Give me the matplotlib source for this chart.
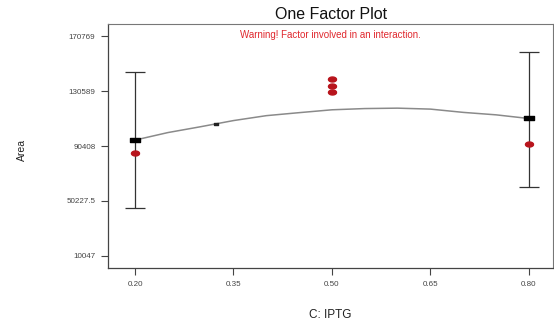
import matplotlib
matplotlib.use("Agg")
import matplotlib.pyplot as plt
from matplotlib.path import Path
import numpy as np

plt.rcParams['font.family'] = ['Liberation Sans', 'DejaVu Sans']

# Data
curve_x = [0.20, 0.25, 0.30, 0.35, 0.40, 0.45, 0.50, 0.55, 0.60, 0.65, 0.70, 0.75, 0.80]
curve_y = [94800, 100300, 104600, 109100, 112700, 114900, 117000, 117900, 118200, 117500, 115100, 113300, 110600]
pred_x = [0.20, 0.80]
pred_y = [94800, 110900]
ci_low = [44730, 60130]
ci_high = [144880, 159550]
actual_x = [0.20, 0.50, 0.50, 0.50, 0.80]
actual_y = [85500, 139530, 134620, 130220, 91650]
mid_x = [0.324]
mid_y = [106540]
xticks = [0.20, 0.35, 0.50, 0.65, 0.80]
xtick_labels = ["0.20", "0.35", "0.50", "0.65", "0.80"]
yticks = [10047, 50227.5, 90408, 130589, 170769]
ytick_labels = ["10047", "50227.5", "90408", "130589", "170769"]

fig = plt.figure(figsize=(5.54, 3.29), dpi=100)
ax = fig.add_axes([0.195, 0.185, 0.803, 0.742])

ax.plot(curve_x, curve_y, color='#8a8a8a', lw=1.1, zorder=2)

# error bars
ax.errorbar(pred_x, pred_y,
            yerr=[np.array(pred_y) - np.array(ci_low), np.array(ci_high) - np.array(pred_y)],
            fmt='none', ecolor='#333333', elinewidth=0.9, capsize=7, capthick=0.9, zorder=3)

rect = Path([(-1, -0.5), (1, -0.5), (1, 0.5), (-1, 0.5), (-1, -0.5)],
            [Path.MOVETO, Path.LINETO, Path.LINETO, Path.LINETO, Path.CLOSEPOLY])
ax.plot(pred_x, pred_y, linestyle='none', marker=rect, markersize=7,
        color='black', zorder=5)

t = np.linspace(0, 2 * np.pi, 30)
ell = Path(np.column_stack([np.cos(t), 0.62 * np.sin(t)]))
ax.plot(actual_x, actual_y, linestyle='none', marker=ell, markersize=5.8,
        color='#b8141c', zorder=4)

ax.plot(mid_x, mid_y, linestyle='none', marker=rect, markersize=2.5,
        color='#222222', zorder=5)

ax.set_xlim(0.1589, 0.8365)
ax.set_ylim(960, 179860)
ax.set_xticks(xticks)
ax.set_xticklabels(xtick_labels)
ax.set_yticks(yticks)
ax.set_yticklabels(ytick_labels)
ax.tick_params(axis='both', direction='out', length=5, width=0.8, color='#444444',
               labelsize=5.8, labelcolor='#444444', pad=4)

for side in ['left', 'bottom']:
    ax.spines[side].set_color('#444444')
    ax.spines[side].set_linewidth(0.9)
for side in ['top', 'right']:
    ax.spines[side].set_color('#777777')
    ax.spines[side].set_linewidth(0.8)

fig.text(0.597, 0.955, "One Factor Plot", ha='center', va='center', fontsize=11.5, color='#111111')
ax.text(0.5, 0.975, "Warning! Factor involved in an interaction.", transform=ax.transAxes,
        ha='center', va='top', fontsize=7, color='#e0282e')

fig.text(0.04, 0.545, "Area", rotation=90, ha='center', va='center', fontsize=7.5, color='#222222')
fig.text(0.597, 0.043, "C: IPTG", ha='center', va='center', fontsize=8.5, color='#222222')

fig.savefig("out.png", dpi=100)
